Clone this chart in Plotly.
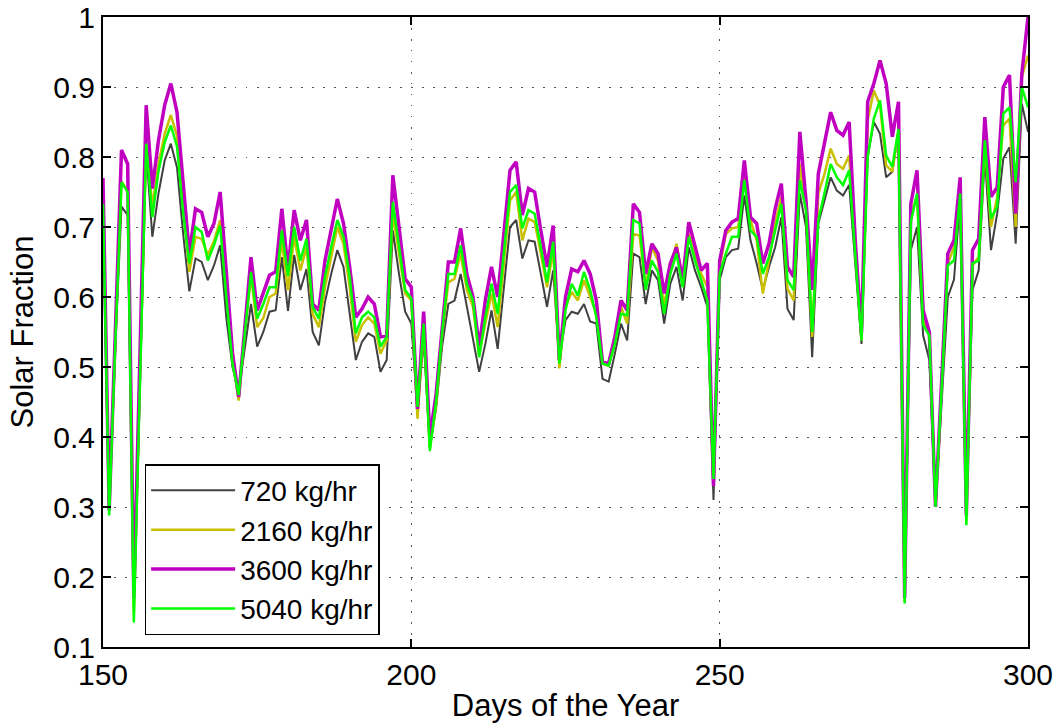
import plotly.graph_objects as go

days = list(range(150, 301))

sf_720 = [
    0.725, 0.30, 0.53, 0.729, 0.717, 0.17, 0.47, 0.81, 0.686, 0.748,
    0.795, 0.819, 0.785, 0.69, 0.608, 0.655, 0.65, 0.624, 0.645, 0.674,
    0.57, 0.50, 0.465, 0.53, 0.59, 0.529, 0.55, 0.579, 0.581, 0.657,
    0.58, 0.66, 0.61, 0.64, 0.55, 0.531, 0.593, 0.633, 0.667, 0.643,
    0.576, 0.51, 0.536, 0.548, 0.543, 0.493, 0.51, 0.695, 0.633, 0.579,
    0.562, 0.438, 0.54, 0.385, 0.44, 0.53, 0.59, 0.595, 0.633, 0.586,
    0.543, 0.493, 0.533, 0.581, 0.526, 0.613, 0.70, 0.71, 0.655, 0.681,
    0.679, 0.633, 0.586, 0.638, 0.51, 0.567, 0.579, 0.576, 0.59, 0.565,
    0.562, 0.483, 0.479, 0.519, 0.562, 0.538, 0.662, 0.657, 0.59, 0.638,
    0.624, 0.562, 0.619, 0.643, 0.595, 0.671, 0.638, 0.614, 0.586, 0.31,
    0.624, 0.657, 0.667, 0.669, 0.745, 0.681, 0.648, 0.61, 0.643, 0.671,
    0.714, 0.583, 0.567, 0.748, 0.70, 0.514, 0.705, 0.738, 0.771, 0.752,
    0.745, 0.76, 0.643, 0.533, 0.80, 0.85, 0.833, 0.771, 0.779, 0.838,
    0.17, 0.667, 0.70, 0.545, 0.51, 0.30, 0.45, 0.60, 0.625, 0.74,
    0.29, 0.61, 0.638, 0.80, 0.667, 0.719, 0.798, 0.814, 0.676, 0.876,
    0.836,
]

sf_2160 = [
    0.735, 0.295, 0.54, 0.765, 0.752, 0.15, 0.49, 0.82, 0.73, 0.79,
    0.833, 0.86, 0.83, 0.73, 0.636, 0.686, 0.683, 0.66, 0.68, 0.71,
    0.61, 0.51, 0.452, 0.55, 0.63, 0.557, 0.57, 0.60, 0.605, 0.681,
    0.61, 0.686, 0.638, 0.671, 0.576, 0.557, 0.614, 0.657, 0.70, 0.676,
    0.614, 0.536, 0.56, 0.571, 0.562, 0.519, 0.538, 0.719, 0.662, 0.605,
    0.595, 0.426, 0.557, 0.385, 0.445, 0.545, 0.621, 0.626, 0.662, 0.61,
    0.586, 0.517, 0.562, 0.605, 0.557, 0.648, 0.738, 0.75, 0.681, 0.712,
    0.707, 0.662, 0.614, 0.667, 0.498, 0.586, 0.607, 0.595, 0.624, 0.60,
    0.576, 0.505, 0.502, 0.533, 0.586, 0.562, 0.69, 0.688, 0.614, 0.671,
    0.652, 0.586, 0.643, 0.676, 0.624, 0.69, 0.662, 0.633, 0.614, 0.33,
    0.643, 0.69, 0.698, 0.70, 0.771, 0.71, 0.681, 0.605, 0.652, 0.705,
    0.743, 0.612, 0.595, 0.79, 0.729, 0.543, 0.748, 0.776, 0.812, 0.79,
    0.783, 0.802, 0.667, 0.538, 0.852, 0.895, 0.874, 0.788, 0.779, 0.838,
    0.165, 0.719, 0.743, 0.567, 0.55, 0.30, 0.47, 0.648, 0.671, 0.752,
    0.28, 0.645, 0.657, 0.819, 0.70, 0.743, 0.845, 0.855, 0.70, 0.914,
    0.945,
]

sf_3600 = [
    0.77, 0.295, 0.55, 0.81, 0.79, 0.17, 0.52, 0.874, 0.755, 0.824,
    0.874, 0.905, 0.864, 0.763, 0.662, 0.726, 0.721, 0.686, 0.705, 0.75,
    0.63, 0.52, 0.457, 0.56, 0.657, 0.581, 0.605, 0.631, 0.636, 0.726,
    0.64, 0.724, 0.681, 0.71, 0.59, 0.581, 0.652, 0.695, 0.74, 0.705,
    0.643, 0.571, 0.583, 0.60, 0.59, 0.543, 0.545, 0.774, 0.70, 0.626,
    0.614, 0.44, 0.579, 0.40, 0.46, 0.56, 0.65, 0.65, 0.698, 0.633,
    0.60, 0.529, 0.595, 0.643, 0.60, 0.69, 0.781, 0.793, 0.717, 0.755,
    0.75, 0.695, 0.643, 0.702, 0.51, 0.60, 0.64, 0.636, 0.652, 0.633,
    0.595, 0.507, 0.505, 0.543, 0.595, 0.581, 0.733, 0.721, 0.633, 0.676,
    0.662, 0.605, 0.648, 0.671, 0.624, 0.707, 0.671, 0.638, 0.648, 0.33,
    0.652, 0.695, 0.707, 0.712, 0.795, 0.714, 0.705, 0.648, 0.676, 0.726,
    0.762, 0.643, 0.629, 0.836, 0.738, 0.61, 0.776, 0.819, 0.864, 0.838,
    0.831, 0.85, 0.679, 0.548, 0.879, 0.905, 0.938, 0.905, 0.829, 0.879,
    0.17, 0.733, 0.781, 0.581, 0.55, 0.30, 0.48, 0.662, 0.681, 0.771,
    0.288, 0.667, 0.683, 0.857, 0.743, 0.757, 0.90, 0.917, 0.719, 0.919,
    1.0,
]

sf_5040 = [
    0.733, 0.288, 0.535, 0.764, 0.75, 0.135, 0.48, 0.819, 0.714, 0.78,
    0.821, 0.845, 0.815, 0.72, 0.648, 0.70, 0.693, 0.652, 0.674, 0.702,
    0.60, 0.505, 0.46, 0.55, 0.636, 0.569, 0.59, 0.614, 0.614, 0.695,
    0.63, 0.70, 0.652, 0.683, 0.586, 0.569, 0.629, 0.671, 0.71, 0.686,
    0.629, 0.548, 0.571, 0.579, 0.571, 0.529, 0.543, 0.736, 0.671, 0.61,
    0.598, 0.443, 0.562, 0.38, 0.45, 0.55, 0.633, 0.633, 0.674, 0.619,
    0.595, 0.514, 0.571, 0.619, 0.576, 0.663, 0.75, 0.76, 0.698, 0.724,
    0.719, 0.671, 0.621, 0.679, 0.505, 0.581, 0.619, 0.602, 0.636, 0.61,
    0.571, 0.505, 0.502, 0.533, 0.576, 0.574, 0.71, 0.705, 0.61, 0.652,
    0.636, 0.576, 0.633, 0.662, 0.614, 0.686, 0.652, 0.624, 0.595, 0.34,
    0.633, 0.662, 0.686, 0.686, 0.767, 0.695, 0.686, 0.633, 0.657, 0.695,
    0.733, 0.624, 0.61, 0.767, 0.724, 0.55, 0.71, 0.748, 0.79, 0.771,
    0.76, 0.781, 0.652, 0.538, 0.80, 0.855, 0.881, 0.802, 0.786, 0.84,
    0.162, 0.707, 0.748, 0.56, 0.545, 0.30, 0.47, 0.645, 0.652, 0.748,
    0.274, 0.648, 0.652, 0.824, 0.712, 0.729, 0.862, 0.871, 0.764, 0.90,
    0.871,
]

series_names = ["720 kg/hr", "2160 kg/hr", "3600 kg/hr", "5040 kg/hr"]
series_values = [sf_720, sf_2160, sf_3600, sf_5040]
series_colors = ["#404040", "#c8c000", "#c000c0", "#00ff00"]
series_widths = [2, 2.5, 3.5, 2.5]

x_ticks = [150, 200, 250, 300]
y_ticks = [0.1, 0.2, 0.3, 0.4, 0.5, 0.6, 0.7, 0.8, 0.9, 1.0]
y_ticktext = ["0.1", "0.2", "0.3", "0.4", "0.5", "0.6", "0.7", "0.8", "0.9", "1"]

fig = go.Figure()
for name, vals, col, w in zip(series_names, series_values, series_colors, series_widths):
    fig.add_trace(go.Scatter(x=days, y=vals, mode="lines", name=name,
                             line=dict(color=col, width=w)))

font_family = "Liberation Sans, Arial, sans-serif"
axis_common = dict(
    showline=True, linecolor="black", linewidth=2, mirror="allticks",
    ticks="inside", ticklen=8, tickwidth=1.5, tickcolor="black",
    showgrid=True, gridcolor="#555555", gridwidth=1, griddash="1.5px,9.5px",
    zeroline=False, automargin=False,
    tickfont=dict(size=30, color="black", family=font_family),
)

fig.update_layout(
    width=1057, height=728,
    margin=dict(l=103, r=29, t=17, b=81),
    paper_bgcolor="white", plot_bgcolor="white",
    font=dict(family=font_family, color="black"),
    showlegend=True,
    legend=dict(
        x=0.045, y=0.019, xanchor="left", yanchor="bottom",
        bgcolor="white", bordercolor="black", borderwidth=1.5,
        font=dict(size=28, color="black", family=font_family),
        itemwidth=84,
    ),
    xaxis=dict(range=[150, 300], tickvals=x_ticks,
               title=dict(text="Days of the Year", font=dict(size=31), standoff=4),
               **axis_common),
    yaxis=dict(range=[0.1, 1.0], tickvals=y_ticks, ticktext=y_ticktext,
               title=dict(text="Solar Fraction", font=dict(size=31), standoff=10),
               **axis_common),
)

fig.write_html("out.html")
